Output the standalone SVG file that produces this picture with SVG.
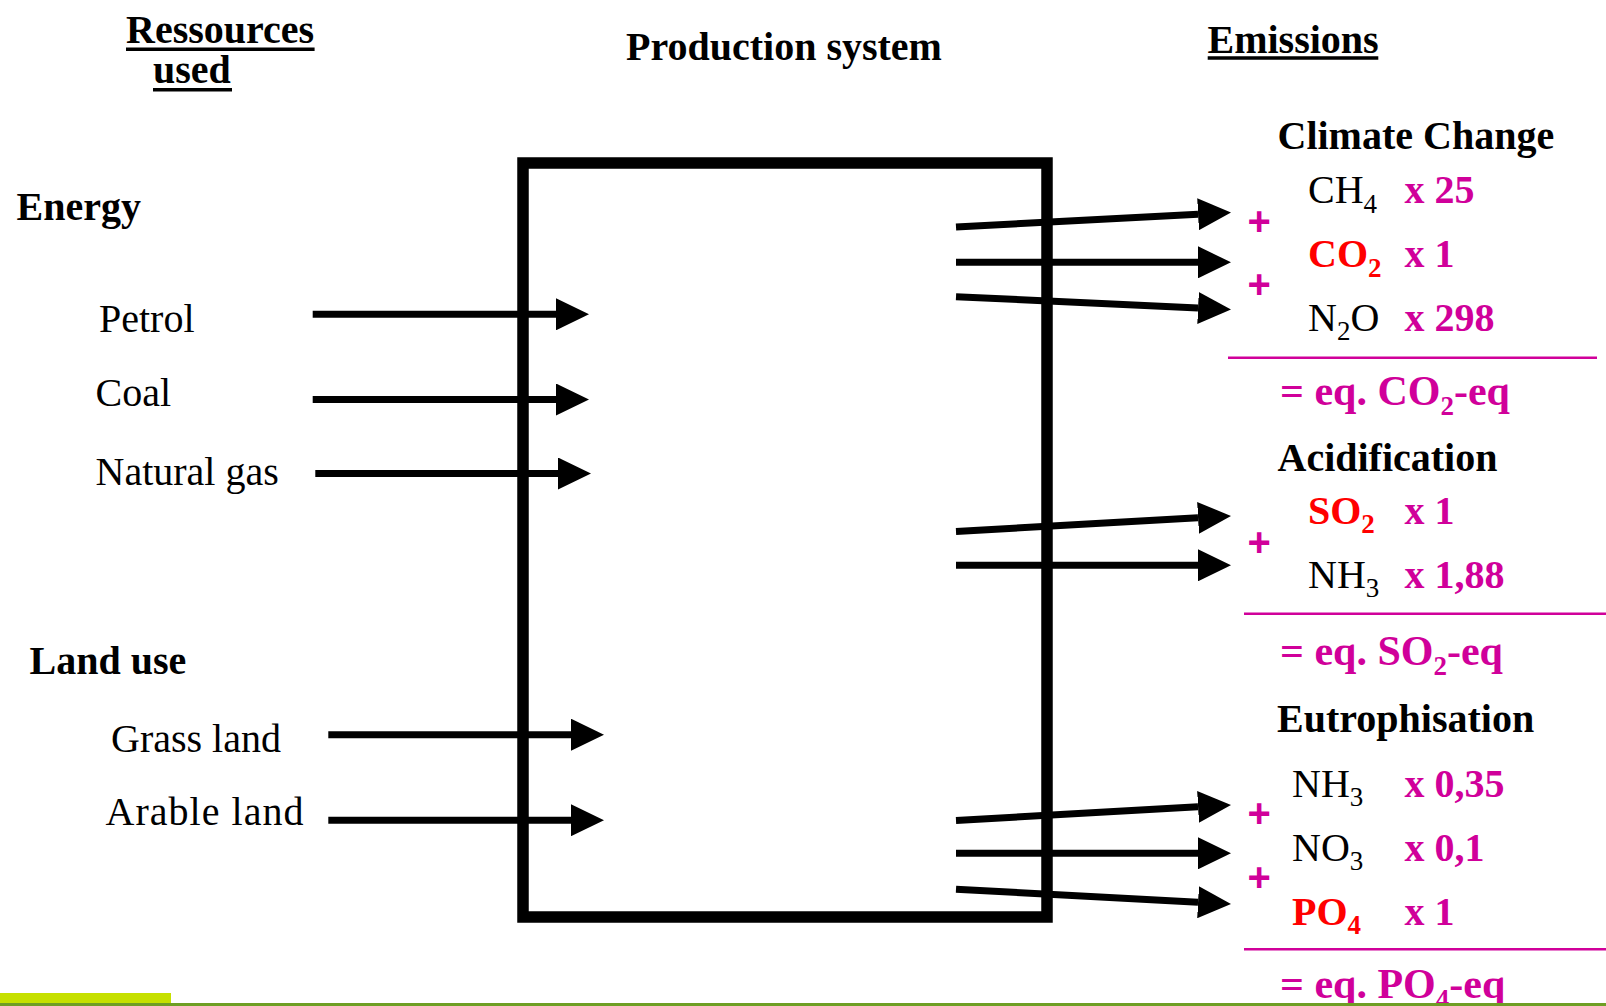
<svg xmlns="http://www.w3.org/2000/svg" width="1606" height="1006" viewBox="0 0 1606 1006">
<defs>
<style>
text{font-family:"Liberation Serif","Times New Roman",serif;font-size:40px;fill:#000}
.b{font-weight:bold}
.m{fill:#d0009a;font-weight:bold}
.r{fill:#ff0000;font-weight:bold}
.eq{font-size:42px}
.plus{font-family:"Liberation Sans",Arial,sans-serif;font-weight:bold;fill:#d0009a;font-size:40px}
.sub{font-size:27px}
.ul{stroke:#000;stroke-width:3.5}
.sep{stroke:#d0009a;stroke-width:2.5}
.arr{stroke:#000;stroke-width:7;fill:none;marker-end:url(#ah)}
</style>
<marker id="ah" markerUnits="userSpaceOnUse" viewBox="0 -16 33 32" markerWidth="33" markerHeight="32" refX="0" refY="0" orient="auto">
<path d="M0,-16 L33,0 L0,16 Z" fill="#000"/>
</marker>
</defs>
<rect width="1606" height="1006" fill="#fff"/>

<g id="header-resources">
<text class="b" x="126" y="43">Ressources</text>
<line class="ul" x1="126" y1="49.2" x2="314.6" y2="49.2"/>
<text class="b" x="153" y="83">used</text>
<line class="ul" x1="153" y1="89.7" x2="232" y2="89.7"/>
</g>
<g id="header-production"><text class="b" x="626" y="60">Production system</text></g>
<g id="header-emissions">
<text class="b" x="1207.5" y="52.7">Emissions</text>
<line class="ul" x1="1207.7" y1="58" x2="1378.3" y2="58"/>
</g>

<g id="energy">
<text class="b" x="16.5" y="220">Energy</text>
<text x="99" y="332.3">Petrol</text>
<text x="95.5" y="405.7">Coal</text>
<text x="95.5" y="485">Natural gas</text>
</g>
<g id="land-use">
<text class="b" x="29.5" y="674.3">Land use</text>
<text x="111" y="751.7">Grass land</text>
<text x="105.5" y="825" textLength="198" lengthAdjust="spacing">Arable land</text>
</g>

<g id="production-system">
<rect x="523" y="163" width="524" height="754" fill="none" stroke="#000" stroke-width="11.5"/>
</g>

<g id="climate-change">
<text class="b" x="1277.5" y="149.3">Climate Change</text>
<text x="1308" y="203.3">CH<tspan class="sub" dy="9.4">4</tspan></text>
<text class="m" x="1404.5" y="203.3">x 25</text>
<text class="r" x="1308" y="266.7">CO<tspan class="sub" dy="10">2</tspan></text>
<text class="m" x="1404.5" y="266.7">x 1</text>
<text x="1308" y="331">N<tspan class="sub" dy="9">2</tspan><tspan dy="-9">O</tspan></text>
<text class="m" x="1404.5" y="331">x 298</text>
<text class="plus" x="1247.5" y="234.5">+</text>
<text class="plus" x="1247.5" y="297.8">+</text>
<line class="sep" x1="1228" y1="357.7" x2="1597" y2="357.7"/>
<text class="m eq" x="1280" y="405">= eq. CO<tspan class="sub" dy="10">2</tspan><tspan dy="-10">-eq</tspan></text>
</g>

<g id="acidification">
<text class="b" x="1277.5" y="471">Acidification</text>
<text class="r" x="1308" y="524.3">SO<tspan class="sub" dy="9">2</tspan></text>
<text class="m" x="1404.5" y="524.3">x 1</text>
<text x="1308" y="587.7">NH<tspan class="sub" dy="9">3</tspan></text>
<text class="m" x="1404.5" y="587.7">x 1,88</text>
<text class="plus" x="1247.5" y="555.5">+</text>
<line class="sep" x1="1244" y1="613.7" x2="1606" y2="613.7"/>
<text class="m eq" x="1280" y="665">= eq. SO<tspan class="sub" dy="10">2</tspan><tspan dy="-10">-eq</tspan></text>
</g>

<g id="eutrophisation">
<text class="b" x="1277" y="732.3">Eutrophisation</text>
<text x="1292" y="796.7">NH<tspan class="sub" dy="9">3</tspan></text>
<text class="m" x="1404.5" y="796.7">x 0,35</text>
<text x="1292" y="860.7">NO<tspan class="sub" dy="9">3</tspan></text>
<text class="m" x="1404.5" y="860.7">x 0,1</text>
<text class="r" x="1292" y="925">PO<tspan class="sub" dy="9">4</tspan></text>
<text class="m" x="1404.5" y="925">x 1</text>
<text class="plus" x="1247.5" y="827.1">+</text>
<text class="plus" x="1247.5" y="890.5">+</text>
<line class="sep" x1="1244" y1="949.3" x2="1606" y2="949.3"/>
<text class="m eq" x="1280" y="998.3">= eq. PO<tspan class="sub" dy="10">4</tspan><tspan dy="-10">-eq</tspan></text>
</g>

<g id="connectors">
<line class="arr" x1="312.7" y1="314.3" x2="556" y2="314.3"/>
<line class="arr" x1="312.7" y1="399.5" x2="556" y2="399.5"/>
<line class="arr" x1="315.3" y1="473.5" x2="558" y2="473.5"/>
<line class="arr" x1="328.3" y1="734.7" x2="571" y2="734.7"/>
<line class="arr" x1="328.3" y1="820.2" x2="571" y2="820.2"/>
<line class="arr" x1="956" y1="227" x2="1198.05" y2="214.24"/>
<line class="arr" x1="956" y1="262.3" x2="1198" y2="262.3"/>
<line class="arr" x1="956" y1="296.7" x2="1198.04" y2="307.97"/>
<line class="arr" x1="956" y1="531.5" x2="1198.05" y2="517.86"/>
<line class="arr" x1="956" y1="565.3" x2="1198" y2="565.3"/>
<line class="arr" x1="956" y1="820.5" x2="1198.05" y2="806.86"/>
<line class="arr" x1="956" y1="853.3" x2="1198" y2="853.3"/>
<line class="arr" x1="956" y1="889.3" x2="1198.05" y2="902.24"/>
</g>

<g id="footer">
<rect x="0" y="993" width="171" height="10" fill="#c6e000"/>
<rect x="0" y="1003" width="1606" height="3" fill="#6e9e24"/>
</g>
</svg>
